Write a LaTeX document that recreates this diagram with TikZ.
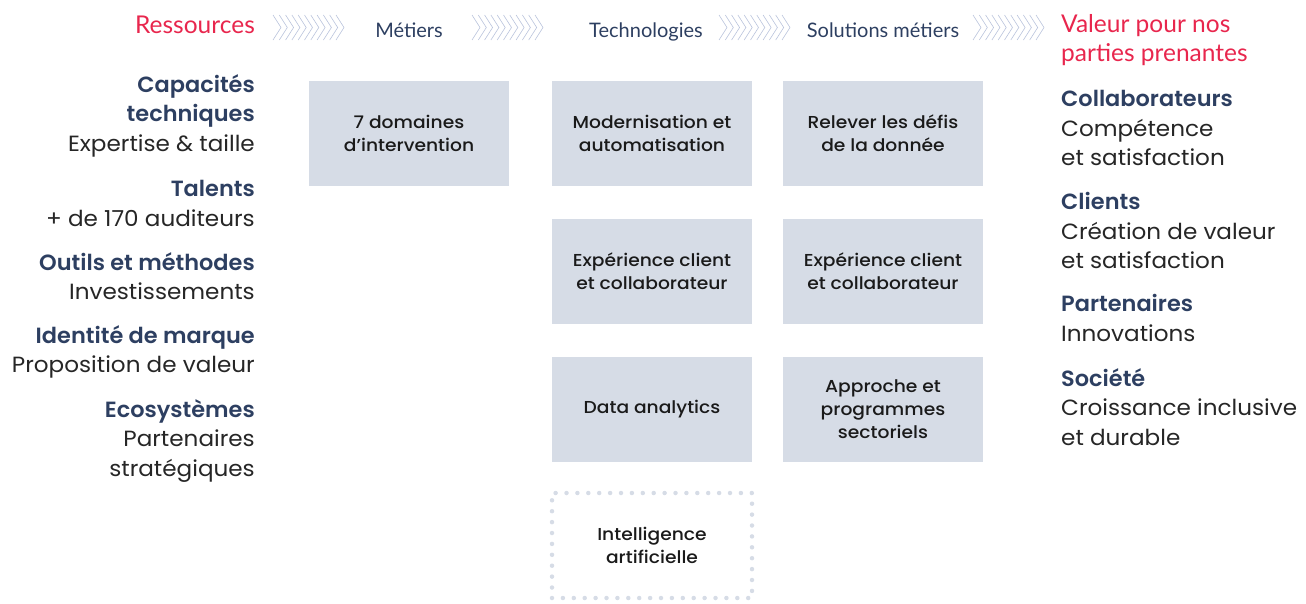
\documentclass[tikz,border=0pt]{standalone}
\usepackage{fontspec}
\setmainfont{Poppins}[FakeStretch=1.05]
\newfontfamily\latofont{Lato}
\newfontfamily\semifont{Poppins SemiBold}[FakeStretch=1.02]
\newfontfamily\medfont{Poppins Medium}[FakeStretch=1.08]
\usetikzlibrary{positioning}

\definecolor{accentred}{HTML}{E8264D}
\definecolor{navy}{HTML}{2D3F61}
\definecolor{bodytext}{HTML}{262626}
\definecolor{boxgray}{HTML}{D6DCE6}
\definecolor{boxtext}{HTML}{1A1A1A}
\definecolor{chevblue}{HTML}{B9C3DC}

\newcommand\hd[1]{\textcolor{navy}{\semifont #1}}

\begin{document}
\begin{tikzpicture}[
    x=1pt, y=-1pt,
    box/.style={fill=boxgray, minimum width=200pt, minimum height=105pt, inner sep=0pt, align=center, font=\medfont\fontsize{17.3}{23}\selectfont, text=boxtext},
    aibox/.style={box, fill=none, draw=boxgray, line width=4.5pt, dash pattern=on 0pt off 10.9pt, line cap=round},
    res/.style={anchor=north east, align=right, inner sep=0pt, font=\fontsize{22}{29.7}\selectfont, text=bodytext},
    val/.style={anchor=north west, align=left, inner sep=0pt, font=\fontsize{22}{29.7}\selectfont, text=bodytext},
    stage/.style={anchor=base, inner sep=0pt, font=\latofont\fontsize{20}{24}\selectfont, text=navy},
    redhead/.style={inner sep=0pt, font=\latofont\fontsize{24.5}{29}\selectfont, text=accentred},
    chev/.style={draw=chevblue, line width=0.6pt}
]
   \useasboundingbox (0,0) rectangle (1306,603);

   % Stage headings and chevrons
   \node[redhead, anchor=base east] (ressources) at (255,33) {Ressources};
   \node[stage] (metiers) at (409,37) {Métiers};
   \node[stage] (techno) at (646,37) {Technologies};
   \node[stage] (solutions) at (883,37) {Solutions métiers};
   \node[redhead, anchor=north west, align=left] (valeur) at (1061,14) {Valeur pour nos\\parties prenantes};

   \foreach \sx in {273,472,719,973}
      \foreach \k in {0,...,10}
         \draw[chev] (\sx+\k*6.3,15) -- ++(8,12.5) -- ++(-8,12.5);

   % Resources (left)
   \node[res] (capacites) at (255,74) {\hd{Capacités}\\\hd{techniques}\\Expertise \& taille};
   \node[res] (talents) at (255,180) {\hd{Talents}\\+ de 170 auditeurs};
   \node[res] (outils) at (255,252) {\hd{Outils et méthodes}\\Investissements};
   \node[res] (identite) at (255,325) {\hd{Identité de marque}\\Proposition de valeur};
   \node[res] (ecosys) at (255,399) {\hd{Ecosystèmes}\\Partenaires\\stratégiques};

   % Boxes: metiers, technologies, solutions
   \node[box] (domaines) at (409,133) {7 domaines\\d’intervention};
   \node[box] (moderni) at (652,133) {Modernisation et\\automatisation};
   \node[box] (expTech) at (652,271) {Expérience client\\et collaborateur};
   \node[box] (analytics) at (652,409) {Data analytics};
   \node[aibox] (ia) at (652,545.5) {Intelligence\\artificielle};
   \node[box] (donnee) at (883,133) {Relever les défis\\de la donnée};
   \node[box] (expSol) at (883,271) {Expérience client\\et collaborateur};
   \node[box] (sectoriels) at (883,409) {Approche et\\programmes\\sectoriels};

   % Value for stakeholders (right)
   \node[val] (collab) at (1061,90) {\hd{Collaborateurs}\\Compétence\\et satisfaction};
   \node[val] (clients) at (1061,192) {\hd{Clients}\\Création de valeur\\et satisfaction};
   \node[val] (partenaires) at (1061,294) {\hd{Partenaires}\\Innovations};
   \node[val] (societe) at (1061,368) {\hd{Société}\\Croissance inclusive\\et durable};
\end{tikzpicture}
\end{document}
